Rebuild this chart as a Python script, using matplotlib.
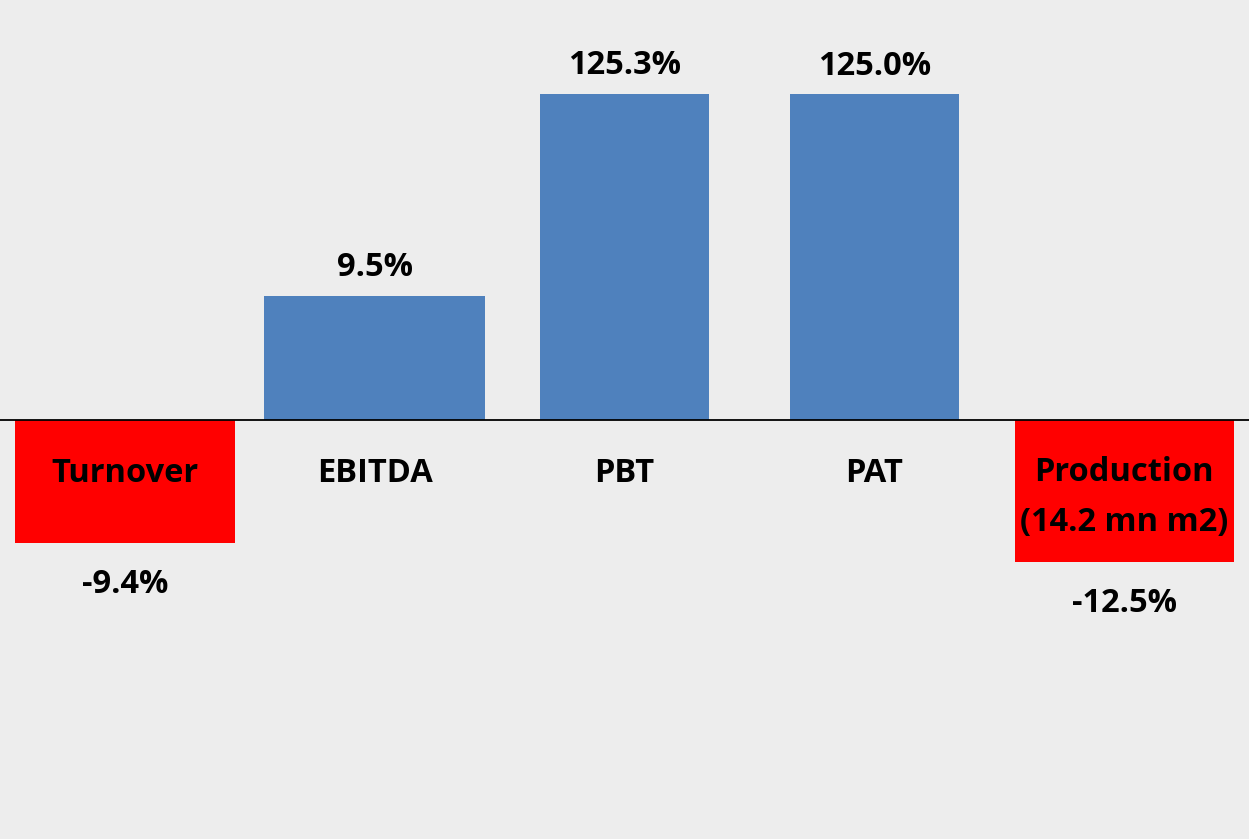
import numpy as np
import matplotlib.pyplot as plt

categories = ['Turnover', 'EBITDA', 'PBT', 'PAT', 'Production\n(14.2 mn m2)']
growth = [-9.4, 9.5, 125.3, 125.0, -12.5]
value_labels = ['-9.4%', '9.5%', '125.3%', '125.0%', '-12.5%']

# bar widths differ in the original
widths = [0.88, 0.884, 0.676, 0.676, 0.876]
blue = '#4F81BD'
red = '#FF0000'
bg = '#EDEDED'


def fwd(v):
    v = np.asarray(v, dtype=float)
    return np.sign(v) * np.log10(1 + np.abs(v) / 3.0)


def inv(t):
    t = np.asarray(t, dtype=float)
    return np.sign(t) * 3.0 * (10 ** np.abs(t) - 1)


fig = plt.figure(figsize=(12.49, 8.39), dpi=100, facecolor=bg)
ax = fig.add_axes([0, 0, 1, 1])
ax.set_facecolor(bg)

x = np.arange(len(categories))
colors = [red if g < 0 else blue for g in growth]
ax.set_yscale('function', functions=(fwd, inv))
ax.bar(x, growth, width=widths, color=colors, zorder=2)
ax.axhline(0, color='black', linewidth=1.3, zorder=3)

ax.set_xlim(-0.5, 4.5)
ax.set_ylim(inv(-2.1), inv(2.1))
ax.set_xticks([])
ax.set_yticks([])
ax.minorticks_off()
for s in ax.spines.values():
    s.set_visible(False)

font = dict(family='Open Sans', fontweight='bold', fontsize=23.5, color='black')

for xi, g, cat, lab in zip(x, growth, categories, value_labels):
    # category label just below the zero line
    ax.annotate(cat, (xi, 0), xytext=(0, -39 if '\n' not in cat else -56),
                textcoords='offset points', ha='center', va='center',
                linespacing=1.7, zorder=4, **font)
    if g >= 0:
        ax.annotate(lab, (xi, g), xytext=(0, 20), textcoords='offset points',
                    ha='center', va='center', zorder=4, **font)
    else:
        ax.annotate(lab, (xi, g), xytext=(0, -30), textcoords='offset points',
                    ha='center', va='center', zorder=4, **font)

fig.savefig('out.png', dpi=100, facecolor=bg)
